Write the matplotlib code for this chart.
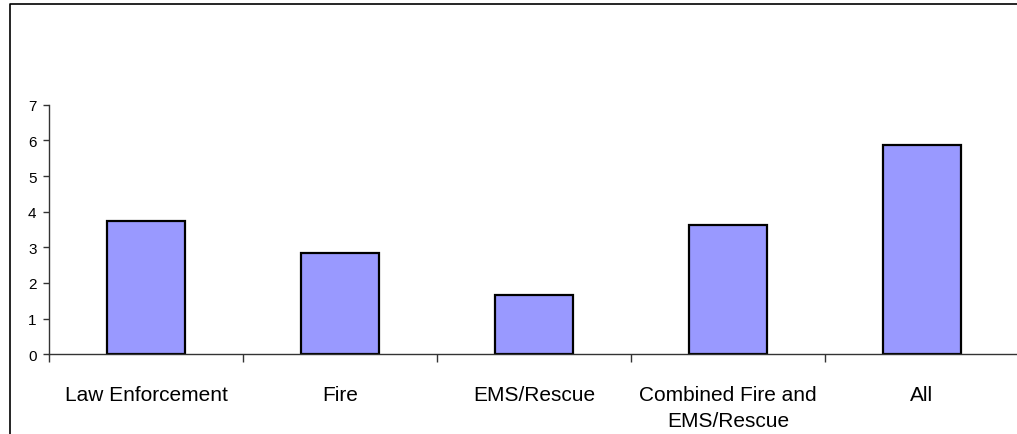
import numpy as np
import matplotlib.pyplot as plt
from matplotlib.lines import Line2D

categories = ["Law Enforcement", "Fire", "EMS/Rescue", "Combined Fire and\nEMS/Rescue", "All"]
values = [3.73, 2.83, 1.65, 3.62, 5.86]
yticks = [0, 1, 2, 3, 4, 5, 6, 7]

plt.rcParams['font.family'] = ['Liberation Sans', 'DejaVu Sans']

W, H = 1017, 435
fig = plt.figure(figsize=(W / 100, H / 100), dpi=100)
ax = fig.add_axes([49 / W, (H - 355.3) / H, 970 / W, (355.3 - 105.7) / H])

x = np.arange(len(categories))
ax.bar(x, values, width=0.4, color='#9999ff', edgecolor='black', linewidth=1.6)

ax.set_xlim(-0.5, len(categories) - 0.5)
ax.set_ylim(0, 7)
ax.set_yticks(yticks)
ax.set_xticks(x)
ax.set_xticklabels(categories, fontsize=15, linespacing=1.45)
ax.set_xticks(np.arange(len(categories)) - 0.5, minor=True)
ax.tick_params(axis='x', which='major', length=0, pad=22)
ax.tick_params(axis='x', which='minor', length=6, width=1, color='#333333', direction='out')
ax.tick_params(axis='y', length=4, width=1, color='#333333', labelsize=11, pad=5)

for s in ['top', 'right']:
    ax.spines[s].set_visible(False)
for s in ['left', 'bottom']:
    ax.spines[s].set_color('#333333')
    ax.spines[s].set_linewidth(1)

# chart area border (left and top edges visible)
fig.add_artist(Line2D([10 / W, 10 / W, 1.01], [-0.01, 1 - 5 / H, 1 - 5 / H],
                      transform=fig.transFigure, color='black', linewidth=1.2))

fig.savefig('out.png', dpi=100)
